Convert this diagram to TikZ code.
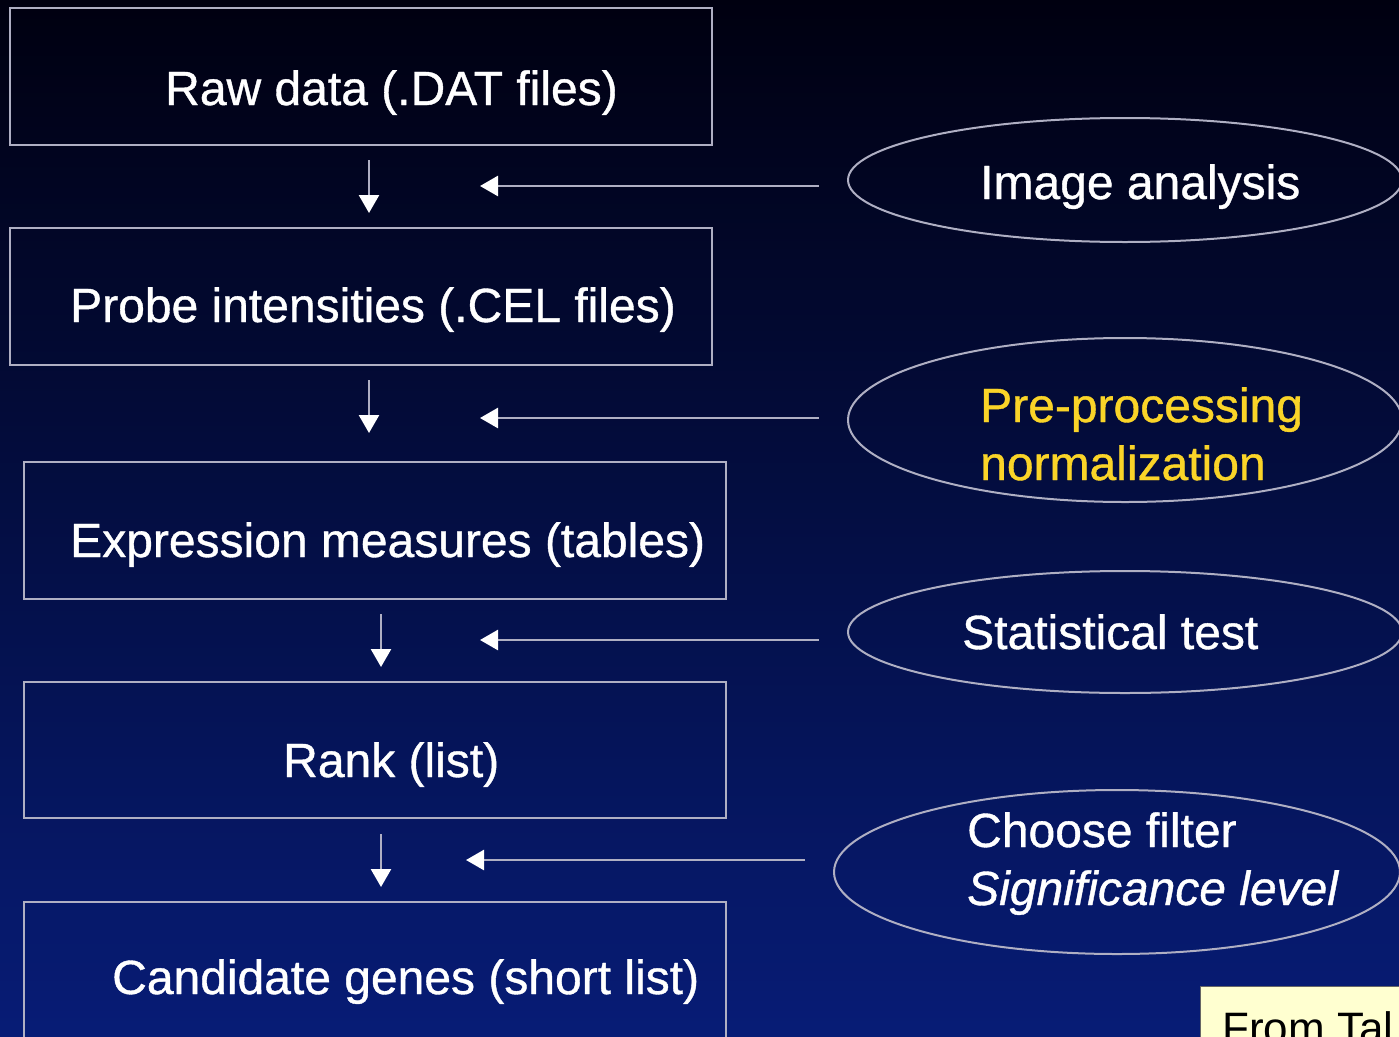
\documentclass[tikz,border=0pt]{standalone}
\usepackage{fontspec}
\setmainfont[FakeBold=0.8]{Liberation Sans}
\newfontfamily\notefont{Liberation Sans}
\usetikzlibrary{arrows.meta,shapes.geometric}

\definecolor{bgtop}{RGB}{0,0,16}
\definecolor{bgmid}{RGB}{1,12,72}
\definecolor{bgbot}{RGB}{7,28,118}
\definecolor{edgegray}{RGB}{175,175,195}
\definecolor{labelyellow}{RGB}{250,212,40}
\definecolor{notefill}{RGB}{255,255,208}

\tikzset{
  stepbox/.style={draw=edgegray, line width=2.6pt, rectangle, inner sep=0pt},
  stepoval/.style={draw=edgegray, line width=2pt, ellipse, inner sep=0pt},
  steptext/.style={text=white, anchor=base west, inner sep=0pt,
    font=\fontsize{48pt}{58pt}\selectfont},
  flowarrow/.style={draw=edgegray, line width=2.6pt,
    -{Triangle[length=18pt,width=20pt,color=white]}},
}

\begin{document}
\begin{tikzpicture}[x=1pt,y=-1pt]
  \useasboundingbox (0,0) rectangle (1399,1036);
  \clip (0,0) rectangle (1399,1036);
  % background
  \shade[top color=bgtop, middle color=bgmid, bottom color=bgbot]
    (0,0) rectangle (1399,1036);

  % pipeline boxes
  \node[stepbox, minimum width=702pt, minimum height=137pt] (b1) at (361,76.5) {};
  \node[stepbox, minimum width=702pt, minimum height=137pt] (b2) at (361,296.5) {};
  \node[stepbox, minimum width=702pt, minimum height=137pt] (b3) at (375,530.5) {};
  \node[stepbox, minimum width=702pt, minimum height=136pt] (b4) at (375,750) {};
  \node[stepbox, minimum width=702pt, minimum height=150pt] (b5) at (375,977) {};

  \node[steptext] (t1) at (165,105) {Raw data (.DAT files)};
  \node[steptext] (t2) at (70,322) {Probe intensities (.CEL files)};
  \node[steptext] (t3) at (70,557) {Expression measures (tables)};
  \node[steptext] (t4) at (283,777) {Rank (list)};
  \node[steptext] (t5) at (112,994) {Candidate genes (short list)};

  % method ovals
  \node[stepoval, minimum width=554pt, minimum height=124pt] (e1) at (1125,180) {};
  \node[stepoval, minimum width=554pt, minimum height=164pt] (e2) at (1125,420) {};
  \node[stepoval, minimum width=554pt, minimum height=122pt] (e3) at (1125,632) {};
  \node[stepoval, minimum width=566pt, minimum height=164pt] (e4) at (1117,872) {};

  \node[steptext] (m1) at (980,199) {Image analysis};
  \node[steptext, text=labelyellow] (m2a) at (980,422) {Pre-processing};
  \node[steptext, text=labelyellow] (m2b) at (980,480) {normalization};
  \node[steptext] (m3) at (962,649) {Statistical test};
  \node[steptext] (m4a) at (967,847) {Choose filter};
  \node[steptext, font=\fontsize{48pt}{58pt}\selectfont\itshape] (m4b) at (967,905) {Significance level};

  % arrow ends between the boxes
  \coordinate (d1) at (369,213);
  \coordinate (d2) at (369,433);
  \coordinate (d3) at (381,667);
  \coordinate (d4) at (381,887);
  \coordinate (s1) at (369,160);
  \coordinate (s2) at (369,380);
  \coordinate (s3) at (381,614);
  \coordinate (s4) at (381,834);
  \coordinate (h1) at (480,186);
  \coordinate (h2) at (480,418);
  \coordinate (h3) at (480,640);
  \coordinate (h4) at (466,860);

  \draw[flowarrow] (s1) -- (d1);
  \draw[flowarrow] (s2) -- (d2);
  \draw[flowarrow] (s3) -- (d3);
  \draw[flowarrow] (s4) -- (d4);

  \draw[flowarrow] (e1.west |- h1) ++(-28,0) -- (h1);
  \draw[flowarrow] (e2.west |- h2) ++(-28,0) -- (h2);
  \draw[flowarrow] (e3.west |- h3) ++(-28,0) -- (h3);
  \draw[flowarrow] (e4.west |- h4) ++(-28,0) -- (h4);

  % source note
  \node[draw=black!60, line width=1pt, fill=notefill, rectangle, anchor=north west,
        minimum width=240pt, minimum height=80pt] (note) at (1200,986) {};
  \node[anchor=base west, inner sep=0pt, text=black,
        font=\notefont\fontsize{44pt}{52pt}\selectfont] (notetext) at (1222,1043) {From Tal};
\end{tikzpicture}
\end{document}
